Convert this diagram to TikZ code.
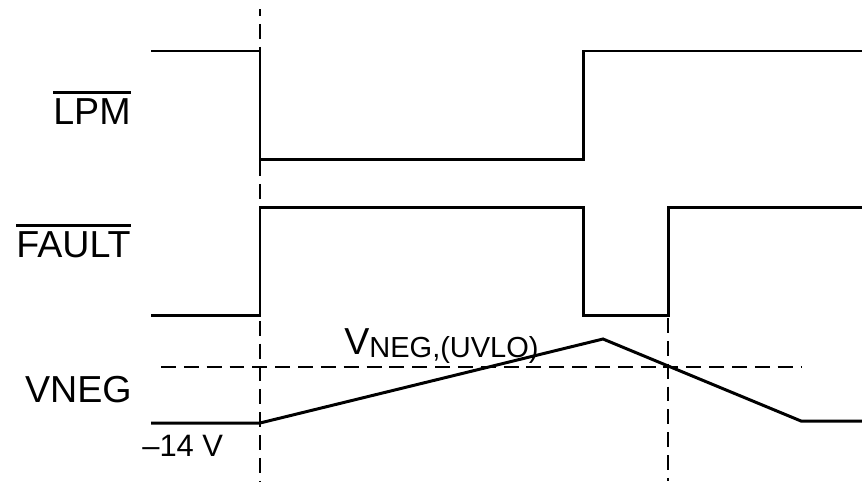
\documentclass[tikz,border=0pt]{standalone}
\usepackage{fontspec}
\setmainfont{Liberation Sans}
\usetikzlibrary{positioning}
\newcommand{\barsig}[1]{\leavevmode\vbox{\hrule height 1.4pt\kern 2.4pt\hbox{#1}}}
\tikzset{
  wave/.style={line width=1.7pt,line join=miter},
  guide/.style={line width=1.2pt,dash pattern=on 8.5pt off 4.5pt},
  level/.style={line width=1.2pt,dash pattern=on 8.5pt off 4.5pt},
  siglabel/.style={anchor=base east,inner sep=0pt,font=\fontsize{21.4}{24}\selectfont},
  vlabel/.style={anchor=base west,inner sep=0pt}
}
\begin{document}
\begin{tikzpicture}[x=0.02cm,y=-0.02cm]
\useasboundingbox (0,0) rectangle (862,481);
% signal names
\node[siglabel] (lpm) at (131,124) {\barsig{LPM}};
\node[siglabel] (fault) at (131,257) {\barsig{FAULT}};
\node[siglabel] (vneg) at (132,402) {VNEG};
\node[vlabel,font=\fontsize{17.6}{20}\selectfont] (vmin) at (142,456) {–14 V};
\node[vlabel,font=\fontsize{21.4}{24}\selectfont] (uvlo) at (344,354)
  {V\raisebox{-2pt}{\fontsize{16.5}{18}\selectfont NEG,(UVLO)}};
% guides
\draw[guide,dash phase=4.5pt] (260,9) -- (260,481);
\draw[guide] (668,318) -- (668,481);
\draw[level] (161,367) -- (801,367);
% waveforms
\draw[wave] (151,51) -- (260,51) -- (260,159) -- (583,159) -- (583,51) -- (862,51);
\draw[wave] (151,315) -- (260,315) -- (260,207) -- (583,207) -- (583,315)
  -- (668,315) -- (668,207) -- (862,207);
\draw[wave] (151,423) -- (260,423) -- (603,339) -- (801,421) -- (862,421);
\end{tikzpicture}
\end{document}
